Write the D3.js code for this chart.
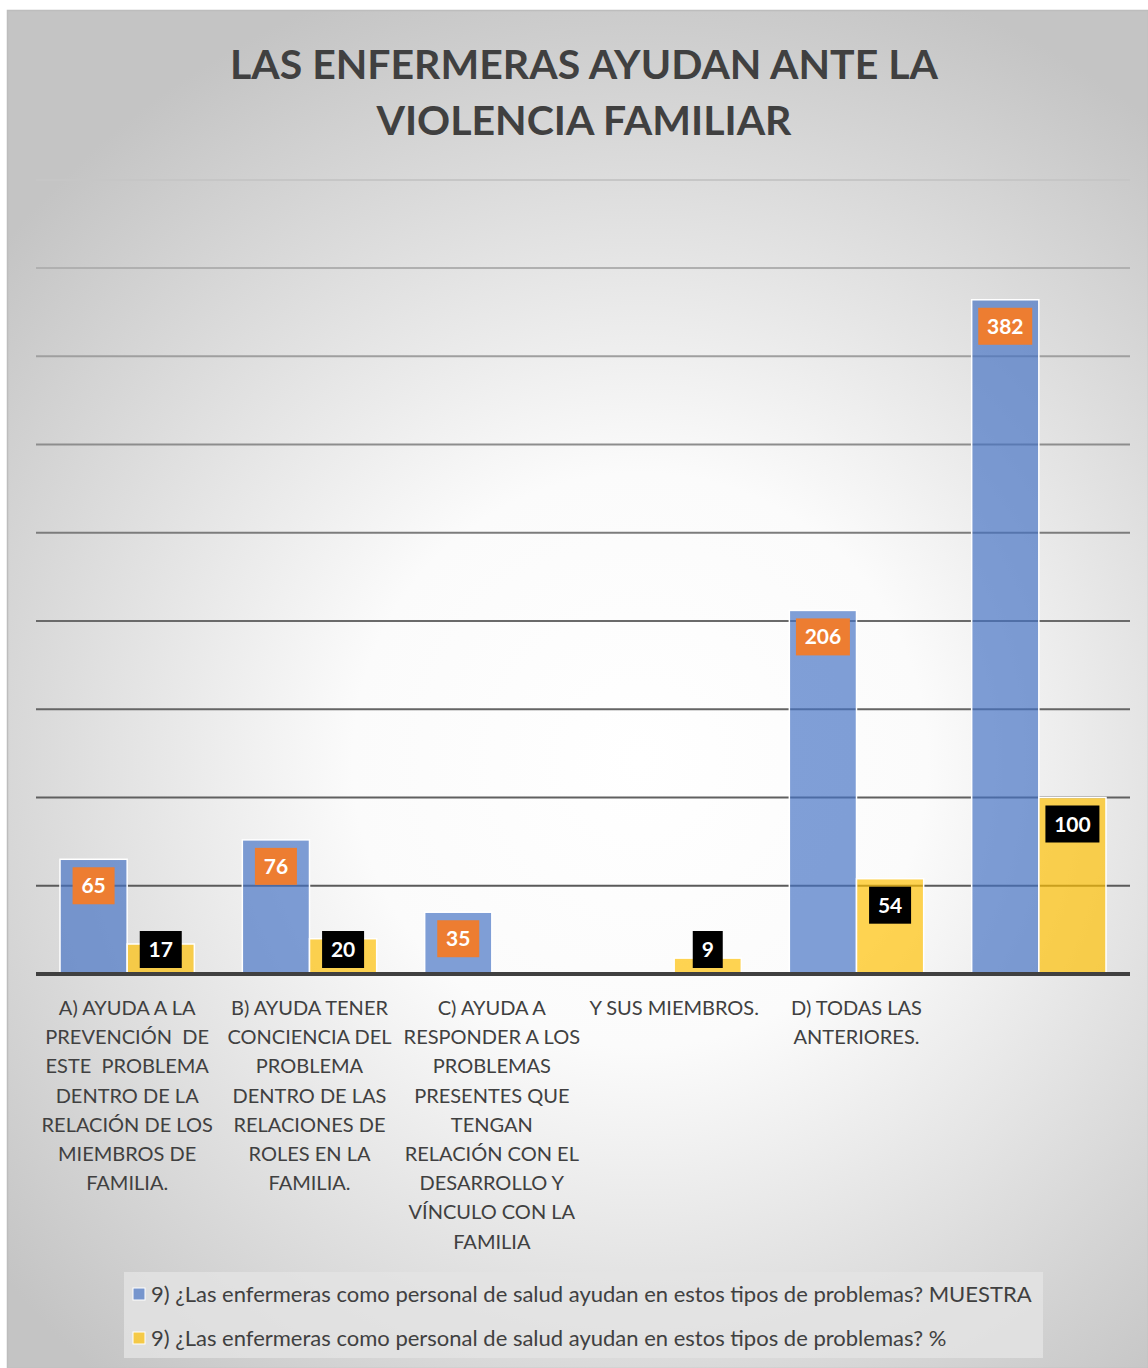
<!DOCTYPE html>
<html>
<head>
<meta charset="utf-8">
<script src="https://cdn.jsdelivr.net/npm/d3@7"></script>
<style>
  body { margin: 0; background: #fff; }
  text { font-family: Lato, "Open Sans", sans-serif; }
</style>
</head>
<body>
<div id="chart"></div>
<script>
// chart data
const titleLines = ["LAS ENFERMERAS AYUDAN ANTE LA", "VIOLENCIA FAMILIAR"];
const categories = ["A", "B", "C", "Y", "D", "F"];
const categoryLabels = [
    ["A) AYUDA A LA", "PREVENCIÓN  DE", "ESTE  PROBLEMA", "DENTRO DE LA", "RELACIÓN DE LOS", "MIEMBROS DE", "FAMILIA."],
    ["B) AYUDA TENER", "CONCIENCIA DEL", "PROBLEMA", "DENTRO DE LAS", "RELACIONES DE", "ROLES EN LA", "FAMILIA."],
    ["C) AYUDA A", "RESPONDER A LOS", "PROBLEMAS", "PRESENTES QUE", "TENGAN", "RELACIÓN CON EL", "DESARROLLO Y", "VÍNCULO CON LA", "FAMILIA"],
    ["Y SUS MIEMBROS."],
    ["D) TODAS LAS", "ANTERIORES."],
    []
];
const seriesNames = [
    "9) ¿Las enfermeras como personal de salud ayudan en estos tipos de problemas? MUESTRA",
    "9) ¿Las enfermeras como personal de salud ayudan en estos tipos de problemas? %"
];
const muestra = [65, 76, 35, null, 206, 382];
const porcentaje = [17, 20, null, 9, 54, 100];
const yTicks = [0, 50, 100, 150, 200, 250, 300, 350, 400];

// page setup
const width = 1148, height = 1368;
const plot = { left: 36, right: 1130, top: 268, bottom: 974 };

const svg = d3.select("#chart").append("svg")
    .attr("width", width)
    .attr("height", height);

const defs = svg.append("defs");
const bg = defs.append("radialGradient")
    .attr("id", "bg")
    .attr("gradientUnits", "userSpaceOnUse")
    .attr("cx", 640).attr("cy", 760).attr("r", 820);
bg.append("stop").attr("offset", "0%").attr("stop-color", "#ffffff");
bg.append("stop").attr("offset", "35%").attr("stop-color", "#fbfbfb");
bg.append("stop").attr("offset", "100%").attr("stop-color", "#c4c4c4");

// chart frame with gradient background
svg.append("rect")
    .attr("x", 7.5).attr("y", 10.5)
    .attr("width", width - 7).attr("height", height - 10)
    .attr("fill", "url(#bg)")
    .attr("stroke", "#bdbdbd")
    .attr("stroke-width", 1.5);

// title
svg.append("g").selectAll("text")
    .data(titleLines)
    .enter()
    .append("text")
    .attr("x", 584)
    .attr("y", (d, i) => 79 + i * 56)
    .attr("text-anchor", "middle")
    .attr("font-size", 41)
    .attr("font-weight", 700)
    .attr("fill", "#404040")
    .text(d => d);

// title underline
svg.append("line")
    .attr("x1", plot.left).attr("x2", plot.right)
    .attr("y1", 180).attr("y2", 180)
    .attr("stroke", "#c6c6c6")
    .attr("stroke-width", 2);

// scales
const x0 = d3.scaleBand().domain(categories).range([plot.left, plot.right]);
const x1 = d3.scaleBand().domain(["muestra", "porcentaje"]).range([24, x0.bandwidth() - 24]);
const y = d3.scaleLinear().domain([0, 400]).range([plot.bottom, plot.top]);
const gridColor = d3.scaleLinear().domain([0, 200, 400]).range(["#555555", "#6a6a6a", "#b0b0b0"]);

// gridlines
svg.append("g").selectAll("line")
    .data(yTicks.filter(t => t > 0))
    .enter()
    .append("line")
    .attr("x1", plot.left).attr("x2", plot.right)
    .attr("y1", d => y(d)).attr("y2", d => y(d))
    .attr("stroke", d => gridColor(d))
    .attr("stroke-width", 2);

// bars
const colors = { muestra: "#4472C4", porcentaje: "#FFC000" };
const rows = [];
categories.forEach((c, i) => {
    if (muestra[i] != null) rows.push({ cat: c, key: "muestra", v: muestra[i] });
    if (porcentaje[i] != null) rows.push({ cat: c, key: "porcentaje", v: porcentaje[i] });
});

svg.append("g").selectAll("rect")
    .data(rows)
    .enter()
    .append("rect")
    .attr("x", d => x0(d.cat) + x1(d.key))
    .attr("y", d => y(d.v))
    .attr("width", x1.bandwidth())
    .attr("height", d => y(0) - y(d.v))
    .attr("fill", d => colors[d.key])
    .attr("fill-opacity", 0.68)
    .attr("stroke", "#ffffff")
    .attr("stroke-width", 1.5);

// baseline
svg.append("line")
    .attr("x1", plot.left).attr("x2", plot.right)
    .attr("y1", y(0)).attr("y2", y(0))
    .attr("stroke", "#404040")
    .attr("stroke-width", 4);

// data labels in boxes
const boxH = 37;
const boxW = d => String(d.v).length * 12 + 18;
const labels = svg.append("g").selectAll("g")
    .data(rows)
    .enter()
    .append("g")
    .attr("transform", d => {
        const cx = x0(d.cat) + x1(d.key) + x1.bandwidth() / 2;
        const top = Math.min(y(d.v) + 8, y(0) - 6 - boxH);
        return `translate(${cx},${top})`;
    });
labels.append("rect")
    .attr("x", d => -boxW(d) / 2)
    .attr("y", 0)
    .attr("width", d => boxW(d))
    .attr("height", boxH)
    .attr("fill", d => d.key === "muestra" ? "#ED7D31" : "#000000");
labels.append("text")
    .attr("x", 0)
    .attr("y", boxH / 2 + 7.5)
    .attr("text-anchor", "middle")
    .attr("font-size", 21)
    .attr("font-weight", 700)
    .attr("fill", "#ffffff")
    .text(d => d.v);

// category labels
const catG = svg.append("g").selectAll("text")
    .data(categories)
    .enter()
    .append("text")
    .attr("x", d => x0(d) + x0.bandwidth() / 2)
    .attr("y", 1015)
    .attr("text-anchor", "middle")
    .attr("font-size", 20)
    .attr("fill", "#404040");
catG.selectAll("tspan")
    .data((d, i) => categoryLabels[i])
    .enter()
    .append("tspan")
    .attr("x", function() { return d3.select(this.parentNode).attr("x"); })
    .attr("dy", (d, i) => i === 0 ? 0 : 29.2)
    .style("white-space", "pre")
    .text(d => d);

// legend
const legend = svg.append("g");
legend.append("rect")
    .attr("x", 124).attr("y", 1272)
    .attr("width", 919).attr("height", 86)
    .attr("fill", "#e4e4e4")
    .attr("fill-opacity", 0.8);
["muestra", "porcentaje"].forEach((k, i) => {
    legend.append("rect")
        .attr("x", 133).attr("y", 1288 + i * 44)
        .attr("width", 12).attr("height", 12)
        .attr("fill", colors[k])
        .attr("fill-opacity", 0.68)
        .attr("stroke", "#ffffff")
        .attr("stroke-width", 1);
    legend.append("text")
        .attr("x", 151).attr("y", 1302 + i * 44)
        .attr("font-size", 22)
        .attr("fill", "#404040")
        .text(seriesNames[i]);
});
</script>
</body>
</html>
